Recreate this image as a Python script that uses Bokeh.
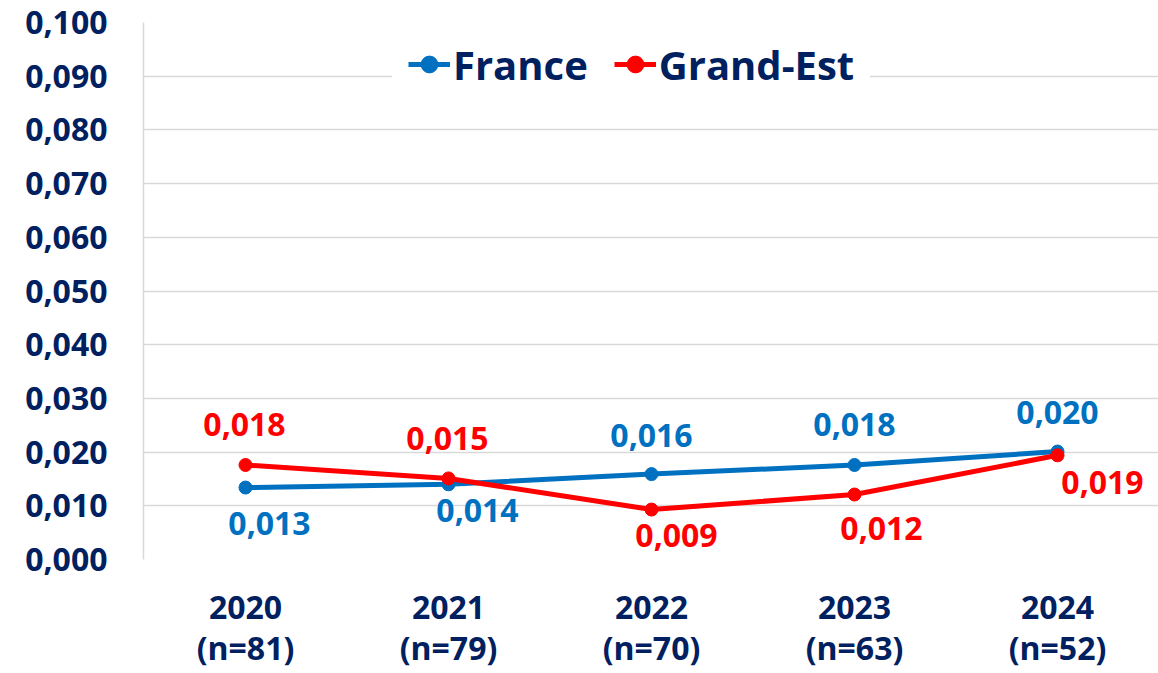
from bokeh.plotting import figure
from bokeh.models import (LinearAxis, CustomJSTickFormatter, FixedTicker,
                          ColumnDataSource, Legend, LegendItem)
from bokeh.embed import file_html
from bokeh.resources import INLINE
from bokeh.core.properties import value

# ---------------- data ----------------
years = ["2020", "2021", "2022", "2023", "2024"]
counts = ["(n=81)", "(n=79)", "(n=70)", "(n=63)", "(n=52)"]
france = [0.0134, 0.0140, 0.0159, 0.0176, 0.0201]
grand_est = [0.0176, 0.0151, 0.0093, 0.0121, 0.0194]
y_ticks = [0.0, 0.01, 0.02, 0.03, 0.04, 0.05, 0.06, 0.07, 0.08, 0.09, 0.1]

# label offsets (screen px) relative to each point
fr_dx = [24, 29, 0, 0, 0]
fr_dy = [36, 26, -39, -40, -39]
ge_dx = [-1, -1, 25, 27, 45]
ge_dy = [-40, -40, 26, 34, 27]

NAVY = "#002060"
BLUE = "#0070C0"
RED = "#FF0000"
GRID = "#D9D9D9"
FONT = "Open Sans"

xs = list(range(len(years)))

def fmt(v):
    return f"{v:.3f}".replace(".", ",")

src_fr = ColumnDataSource(dict(x=xs, y=france, lbl=[fmt(v) for v in france], dx=fr_dx, dy=fr_dy))
src_ge = ColumnDataSource(dict(x=xs, y=grand_est, lbl=[fmt(v) for v in grand_est], dx=ge_dx, dy=ge_dy))

p = figure(width=1158, height=673, output_backend="svg", toolbar_location=None,
           x_range=(-0.5025, 4.4975), y_range=(0, 0.1),
           min_border_left=143, min_border_right=0, min_border_top=22, min_border_bottom=114)
p.outline_line_color = None
p.background_fill_color = "white"
p.border_fill_color = "white"

# y axis
ya = p.yaxis[0]
ya.ticker = FixedTicker(ticks=y_ticks)
ya.formatter = CustomJSTickFormatter(code="return tick.toFixed(3).replace('.', ',');")
ya.axis_line_color = GRID
ya.axis_line_width = 1.5
ya.major_tick_line_color = None
ya.minor_tick_line_color = None
ya.major_tick_out = 0
ya.minor_tick_out = 0
ya.major_label_standoff = 36
ya.major_label_text_font = FONT
ya.major_label_text_font_style = "bold"
ya.major_label_text_font_size = "32px"
ya.major_label_text_color = NAVY

p.ygrid.ticker = FixedTicker(ticks=y_ticks)
p.ygrid.grid_line_color = GRID
p.ygrid.grid_line_width = 1.5
p.xgrid.grid_line_color = None

# x axes (two rows of labels)
def style_x(ax, labels, standoff):
    ax.ticker = FixedTicker(ticks=xs)
    ax.major_label_overrides = {i: t for i, t in zip(xs, labels)}
    ax.axis_line_color = None
    ax.major_tick_line_color = None
    ax.minor_tick_line_color = None
    ax.major_tick_out = 0
    ax.minor_tick_out = 0
    ax.major_label_standoff = standoff
    ax.major_label_text_font = FONT
    ax.major_label_text_font_style = "bold"
    ax.major_label_text_font_size = "32px"
    ax.major_label_text_color = NAVY

style_x(p.xaxis[0], years, 36)
ax2 = LinearAxis()
style_x(ax2, counts, 4)
p.add_layout(ax2, "below")

# series
fr_line = p.line("x", "y", source=src_fr, line_color=BLUE, line_width=5)
fr_pts = p.scatter("x", "y", source=src_fr, size=13, fill_color=BLUE, line_color=BLUE)
ge_line = p.line("x", "y", source=src_ge, line_color=RED, line_width=5)
ge_pts = p.scatter("x", "y", source=src_ge, size=13, fill_color=RED, line_color=RED)

for src, col in ((src_fr, BLUE), (src_ge, RED)):
    p.text("x", "y", text="lbl", source=src, x_offset="dx", y_offset="dy",
           text_align="center", text_baseline="middle",
           text_font=value(FONT), text_font_style="bold",
           text_font_size="32px", text_color=col)

legend = Legend(items=[LegendItem(label="France", renderers=[fr_line, fr_pts]),
                       LegendItem(label="Grand-Est", renderers=[ge_line, ge_pts])],
                orientation="horizontal", location=(249, 446),
                label_text_font=FONT, label_text_font_style="bold",
                label_text_font_size="40px", label_text_color=NAVY,
                glyph_width=42, glyph_height=66, label_height=66,
                label_standoff=3, spacing=26, padding=15, margin=0,
                border_line_color="white", border_line_width=1,
                background_fill_color="white", background_fill_alpha=1.0)
p.add_layout(legend)

open("out.html", "w").write(file_html(p, INLINE))
